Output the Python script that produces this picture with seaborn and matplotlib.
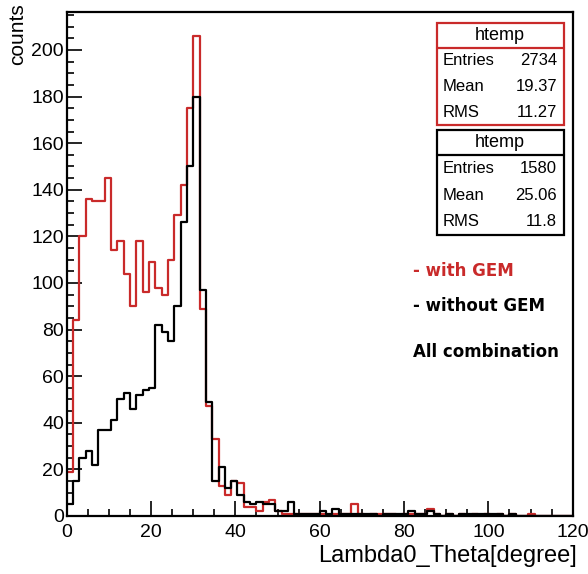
import numpy as np
import pandas as pd
import matplotlib
matplotlib.use("Agg")
import matplotlib.pyplot as plt
from matplotlib.patches import Rectangle
from matplotlib.ticker import MultipleLocator
import seaborn as sns

# Histogram binning: 1.5 degree bins over the displayed range
bin_width = 1.5
x_min, x_max = 0.0, 120.0

# Bin contents, Lambda0 theta with GEM
counts_with_gem = [
    19, 84, 120, 136, 135, 135, 145, 114, 118, 104,
    90, 118, 96, 109, 98, 95, 110, 129, 142, 175,
    206, 89, 47, 33, 13, 9, 15, 14, 4, 4,
    2, 6, 7, 2, 1, 1, 1, 1, 1, 1,
    1, 0, 1, 1, 1, 5, 1, 0, 1, 1,
    1, 1, 0, 1, 1, 1, 1, 3, 1, 0,
    1, 0, 1, 0, 1, 0, 1, 0, 1, 0,
    1, 0, 0, 1, 0, 0, 0, 0, 0, 0,
]

# Bin contents, Lambda0 theta without GEM
counts_without_gem = [
    5, 15, 25, 28, 22, 37, 37, 41, 50, 53,
    46, 52, 54, 55, 82, 79, 75, 90, 126, 150,
    180, 97, 49, 15, 21, 12, 15, 9, 6, 5,
    6, 5, 5, 2, 2, 6, 1, 1, 1, 1,
    2, 1, 3, 1, 1, 1, 1, 1, 1, 0,
    1, 1, 1, 1, 2, 1, 1, 2, 1, 0,
    1, 0, 1, 1, 1, 1, 1, 1, 1, 0,
    1, 0, 0, 0, 0, 0, 0, 0, 0, 0,
]

# Statistics boxes
stats_with_gem = {"Entries": "2734", "Mean": "19.37", "RMS": "11.27"}
stats_without_gem = {"Entries": "1580", "Mean": "25.06", "RMS": "11.8"}

x_ticks = [0, 20, 40, 60, 80, 100, 120]
y_ticks = [0, 20, 40, 60, 80, 100, 120, 140, 160, 180, 200]

RED = "#c92a2a"
BLACK = "#000000"

edges = [x_min + i * bin_width for i in range(int(round((x_max - x_min) / bin_width)) + 1)]
centers = [e + bin_width / 2 for e in edges[:-1]]
df = pd.DataFrame({
    "theta": centers + centers,
    "counts": counts_with_gem + counts_without_gem,
    "sample": ["with GEM"] * len(centers) + ["without GEM"] * len(centers),
})

sns.set_style("ticks")
plt.rcParams["font.family"] = ["Liberation Sans", "DejaVu Sans"]
plt.rcParams["text.color"] = "black"
plt.rcParams["xtick.color"] = "black"
plt.rcParams["ytick.color"] = "black"
plt.rcParams["xtick.labelcolor"] = "black"
plt.rcParams["ytick.labelcolor"] = "black"
plt.rcParams["axes.labelcolor"] = "black"

W, H = 588, 574
fig = plt.figure(figsize=(W / 100, H / 100), dpi=100)
ax_left, ax_right, ax_top, ax_bottom = 66.7, 572.7, 12.0, 516.0
ax = fig.add_axes([ax_left / W, 1 - ax_bottom / H,
                   (ax_right - ax_left) / W, (ax_bottom - ax_top) / H])

for name, color in [("with GEM", RED), ("without GEM", BLACK)]:
    sub = df[df["sample"] == name].reset_index(drop=True)
    sns.histplot(data=sub, x="theta", weights="counts",
                 bins=edges, element="step", fill=False, color=color,
                 linewidth=1.6, ax=ax)

ax.set_xlim(x_min, x_max)
ax.set_ylim(0, 1.05 * max(counts_with_gem))

ax.set_xticks(x_ticks)
ax.set_yticks(y_ticks)
ax.xaxis.set_minor_locator(MultipleLocator(5))
ax.yaxis.set_minor_locator(MultipleLocator(5))
ax.tick_params(axis="both", which="both", direction="in", top=False, right=False,
               width=1.2, color="black", labelcolor="black", labelsize=14)
ax.tick_params(axis="both", which="major", length=11)
ax.tick_params(axis="both", which="minor", length=5)
ax.tick_params(axis="x", pad=6)
ax.tick_params(axis="y", pad=2)
for s in ax.spines.values():
    s.set_linewidth(1.6)
    s.set_color("black")

ax.set_xlabel("")
ax.set_ylabel("")
fig.text(577 / W, 1 - 556 / H, "Lambda0_Theta[degree]", ha="right", va="center",
         fontsize=17, color="black")
fig.text(18 / W, 1 - 3 / H, "counts", ha="center", va="top", rotation=90,
         fontsize=15, color="black")


def px(x, y):
    return x / W, 1 - y / H


def stats_box(top, bottom, divider, color, stats):
    x0, x1 = 436.5, 564.0
    rect = Rectangle(px(x0, bottom), (x1 - x0) / W, (bottom - top) / H,
                     transform=fig.transFigure, facecolor="white",
                     edgecolor=color, linewidth=1.6, zorder=5)
    fig.add_artist(rect)
    fig.add_artist(plt.Line2D([x0 / W, x1 / W], [1 - divider / H] * 2,
                              transform=fig.transFigure, color=color,
                              linewidth=1.6, zorder=6))
    fig.text(*px((x0 + x1) / 2, (top + divider) / 2), "htemp", ha="center",
             va="center", fontsize=13, color="black", zorder=7)
    row_h = (bottom - divider) / 3
    for i, (label, value) in enumerate(stats.items()):
        yc = divider + row_h * (i + 0.5)
        fig.text(*px(443, yc), label, ha="left", va="center", fontsize=12,
                 color="black", zorder=7)
        fig.text(*px(557, yc), value, ha="right", va="center", fontsize=12,
                 color="black", zorder=7)


stats_box(22.7, 125.0, 47.7, RED, stats_with_gem)
stats_box(130.0, 235.0, 155.0, BLACK, stats_without_gem)

fig.text(*px(413, 271), "- with GEM", ha="left", va="center", fontsize=12,
         fontweight="bold", color=RED, family="DejaVu Sans")
fig.text(*px(413, 306), "- without GEM", ha="left", va="center", fontsize=12,
         fontweight="bold", color=BLACK, family="DejaVu Sans")
fig.text(*px(413, 352), "All combination", ha="left", va="center", fontsize=12,
         fontweight="bold", color=BLACK, family="DejaVu Sans")

fig.savefig("out.png", dpi=100, facecolor="white")
